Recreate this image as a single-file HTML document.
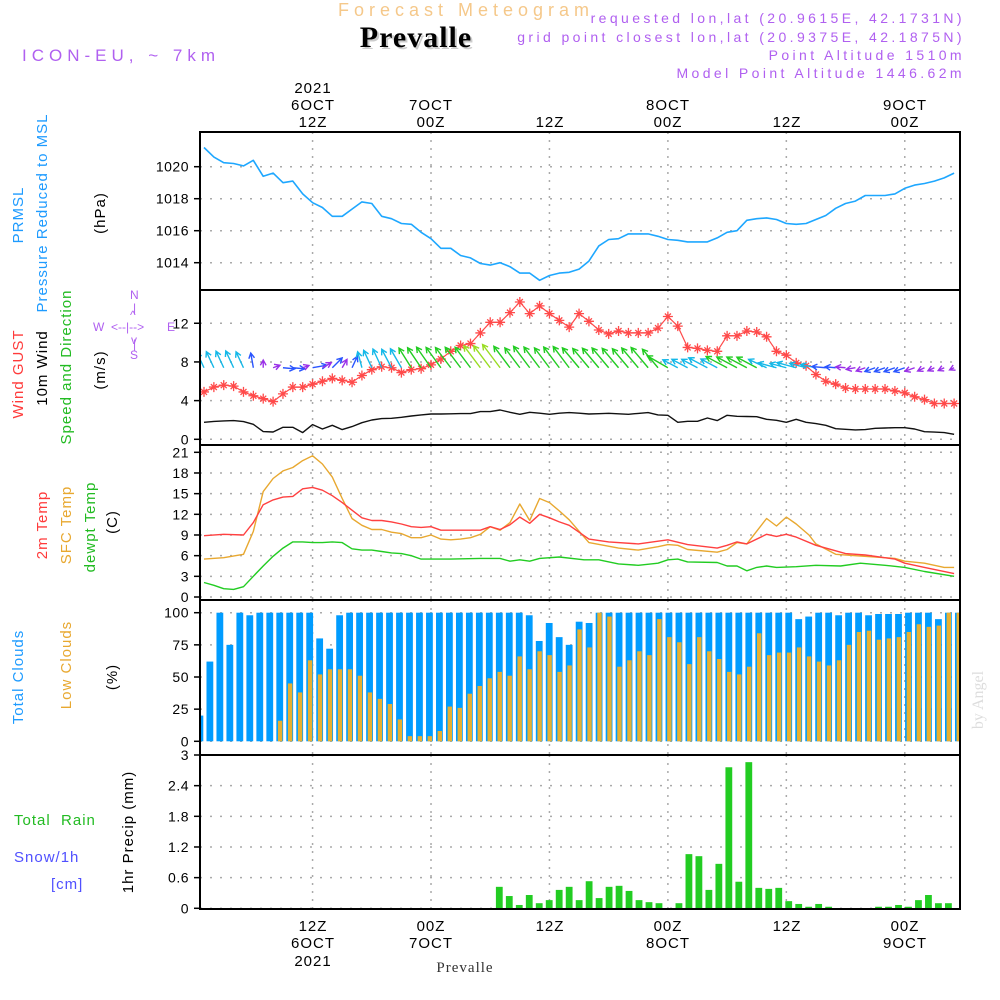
<!DOCTYPE html>
<html><head><meta charset="utf-8"><title>Forecast Meteogram Prevalle</title>
<style>
html,body{margin:0;padding:0;background:#fff;}
svg{display:block;font-family:"Liberation Sans",sans-serif;}
.t{font-size:15px;letter-spacing:1px;}
.v{fill:#b060f0;font-size:14px;letter-spacing:3.4px;}
.tick{font-size:14px;text-anchor:end;letter-spacing:0.5px;}
.ax{font-size:15px;text-anchor:middle;letter-spacing:1px;}
</style></head><body>
<svg id="chart" width="1000" height="1000" viewBox="0 0 1000 1000" xmlns="http://www.w3.org/2000/svg">
<defs><clipPath id="plotclip"><rect x="200" y="132" width="760" height="778"/></clipPath></defs>
<!-- header -->
<text x="466" y="16" text-anchor="middle" fill="#f5c88a" font-size="18" letter-spacing="5">Forecast Meteogram</text>
<text x="418" y="49" text-anchor="middle" fill="#ccc" font-family="Liberation Serif,serif" font-weight="bold" font-size="30" letter-spacing="1">Prevalle</text>
<text x="416" y="47" text-anchor="middle" fill="#000" font-family="Liberation Serif,serif" font-weight="bold" font-size="30" letter-spacing="1">Prevalle</text>
<text x="22" y="61" fill="#b060f0" font-size="17" letter-spacing="5">ICON-EU, ~ 7km</text>
<text x="965" y="23" text-anchor="end" class="v">requested lon,lat (20.9615E, 42.1731N)</text>
<text x="965" y="42" text-anchor="end" class="v">grid point closest lon,lat (20.9375E, 42.1875N)</text>
<text x="965" y="60" text-anchor="end" class="v">Point Altitude 1510m</text>
<text x="965" y="78" text-anchor="end" class="v">Model Point Altitude 1446.62m</text>
<!-- top time labels -->
<g class="ax">
<text x="313" y="93">2021</text><text x="313" y="110">6OCT</text><text x="313" y="127">12Z</text>
<text x="431" y="110">7OCT</text><text x="431" y="127">00Z</text>
<text x="550" y="127">12Z</text>
<text x="668" y="110">8OCT</text><text x="668" y="127">00Z</text>
<text x="787" y="127">12Z</text>
<text x="905" y="110">9OCT</text><text x="905" y="127">00Z</text>
</g>
<g class="ax">
<text x="313" y="931">12Z</text><text x="313" y="948">6OCT</text><text x="313" y="966">2021</text>
<text x="431" y="931">00Z</text><text x="431" y="948">7OCT</text>
<text x="550" y="931">12Z</text>
<text x="668" y="931">00Z</text><text x="668" y="948">8OCT</text>
<text x="787" y="931">12Z</text>
<text x="905" y="931">00Z</text><text x="905" y="948">9OCT</text>
</g>
<text x="465" y="972" text-anchor="middle" font-family="Liberation Serif,serif" font-size="15" letter-spacing="1" fill="#333">Prevalle</text>
<!-- left titles -->
<g class="t">
<text transform="rotate(-90 23 215)" x="23" y="215" text-anchor="middle" fill="#1e9bff">PRMSL</text>
<text transform="rotate(-90 47 213)" x="47" y="213" text-anchor="middle" fill="#1e9bff">Pressure Reduced to MSL</text>
<text transform="rotate(-90 105 213)" x="105" y="213" text-anchor="middle" fill="#000">(hPa)</text>
<text transform="rotate(-90 23 374)" x="23" y="374" text-anchor="middle" fill="#ff3b3b">Wind GUST</text>
<text transform="rotate(-90 47 368)" x="47" y="368" text-anchor="middle" fill="#000">10m Wind</text>
<text transform="rotate(-90 71 367)" x="71" y="367" text-anchor="middle" fill="#22bb22">Speed and Direction</text>
<text transform="rotate(-90 105 370)" x="105" y="370" text-anchor="middle" fill="#000">(m/s)</text>
<text transform="rotate(-90 47 525)" x="47" y="525" text-anchor="middle" fill="#ff3b3b">2m Temp</text>
<text transform="rotate(-90 71 525)" x="71" y="525" text-anchor="middle" fill="#e8a830">SFC Temp</text>
<text transform="rotate(-90 95 527)" x="95" y="527" text-anchor="middle" fill="#22bb22">dewpt Temp</text>
<text transform="rotate(-90 117 522)" x="117" y="522" text-anchor="middle" fill="#000">(C)</text>
<text transform="rotate(-90 23 677)" x="23" y="677" text-anchor="middle" fill="#1e9bff">Total Clouds</text>
<text transform="rotate(-90 71 665)" x="71" y="665" text-anchor="middle" fill="#e8a830">Low Clouds</text>
<text transform="rotate(-90 117 677)" x="117" y="677" text-anchor="middle" fill="#000">(%)</text>
<text transform="rotate(-90 133 832)" x="133" y="832" text-anchor="middle" fill="#000">1hr Precip (mm)</text>
</g>
<text x="14" y="825" class="t" fill="#22bb22">Total&#160;&#160;Rain</text>
<text x="14" y="862" class="t" fill="#5050ff">Snow/1h</text>
<text x="51" y="889" class="t" fill="#5050ff">[cm]</text>
<text transform="rotate(-90 983 700)" x="983" y="700" text-anchor="middle" fill="#ddd" font-family="Liberation Serif,serif" font-size="16">by Angel</text>
<!-- compass -->
<g fill="#b060f0" font-size="12">
<text x="130" y="299">N</text><text x="133" y="312">|</text><text x="130" y="319">^</text>
<text x="93" y="331">W</text><text x="111" y="331">&lt;--|--&gt;</text><text x="167" y="331">E</text>
<text x="131" y="344">v</text><text x="133" y="348">|</text><text x="130" y="359">S</text>
</g>
<g id="grid"></g>
<g id="marks" clip-path="url(#plotclip)"></g>
<g id="frames"></g>
</svg>
<script>
// ---- data ----
const pressT = [0,1,2,3,4,5,6,7,8,9,10,11,12,13,14,15,16,17,18,19,20,21,22,23,24,25,26,27,28,29,30,31,32,33,34,35,36,37,38,39,40,41,42,43,44,45,46,47,48,49,50,51,52,53,54,55,56,57,58,59,60,61,62,63,64,65,66,67,68,69,70,71,72,73,74,75,76];
const pressV = [1021.2,1020.6,1020.25,1020.2,1020.05,1020.4,1019.4,1019.6,1019.0,1019.1,1018.3,1017.75,1017.45,1016.9,1016.9,1017.35,1017.8,1017.7,1016.9,1016.75,1016.45,1016.4,1015.9,1015.5,1014.9,1014.9,1014.45,1014.3,1013.95,1013.85,1014.0,1013.75,1013.35,1013.35,1012.9,1013.2,1013.35,1013.4,1013.6,1014.1,1015.05,1015.45,1015.5,1015.8,1015.8,1015.8,1015.65,1015.45,1015.4,1015.3,1015.3,1015.3,1015.55,1015.9,1016.0,1016.65,1016.75,1016.8,1016.7,1016.45,1016.4,1016.45,1016.7,1016.95,1017.4,1017.7,1017.85,1018.2,1018.2,1018.2,1018.3,1018.65,1018.85,1018.95,1019.1,1019.3,1019.6];
const gustV = [4.9,5.4,5.6,5.5,4.9,4.5,4.2,3.9,4.7,5.4,5.4,5.7,6.0,6.3,6.1,5.9,6.6,7.2,7.5,7.4,6.9,7.2,7.3,7.7,8.3,9.1,9.7,9.9,11.0,12.1,12.1,13.1,14.2,13.0,13.8,13.0,12.3,11.6,13.0,12.2,11.3,10.9,11.2,11.0,11.0,11.0,11.5,12.7,11.7,9.5,9.4,9.2,9.1,10.7,10.7,11.2,11.1,10.6,9.1,8.7,7.9,7.6,6.7,6.0,5.7,5.3,5.2,5.2,5.2,5.2,5.0,4.8,4.4,4.1,3.7,3.7,3.7];
const windV = [1.76,1.85,1.9,1.93,1.83,1.55,0.8,0.76,1.24,1.24,0.69,1.52,1.07,1.45,1.0,1.31,1.72,2.0,2.14,2.17,2.28,2.41,2.52,2.62,2.62,2.64,2.66,2.66,2.86,2.86,3.03,2.79,2.59,2.79,2.7,2.59,2.7,2.76,2.7,2.62,2.65,2.69,2.64,2.59,2.68,2.76,2.52,2.48,1.76,1.86,1.86,2.2,1.93,2.48,2.38,2.36,2.34,2.07,1.97,1.76,2.07,1.76,1.62,1.45,1.1,1.03,0.97,1.0,1.14,1.17,1.2,1.2,1.07,0.79,0.74,0.69,0.52];
const windDir = [115,115,115,115,115,100,90,20,-5,-5,20,10,30,45,60,65,105,115,115,118,120,122,124,125,126,127,127,127,127,127,127,127,127,127,127,127,127,127,130,130,130,130,130,130,130,130,130,150,152,152,152,152,152,152,152,152,152,155,165,165,165,165,168,175,175,175,190,200,200,200,200,200,200,205,205,205,205];
const t2mT = [0,2,4,5,6,7,8,9,10,11,12,13,14,15,16,17,18,19,20,21,22,23,24,28,29,30,31,32,33,34,35,36,37,39,41,44,47,49,52,53,54,55,57,58,59,60,62,64,65,67,70,71,73,76];
const t2mV = [8.9,9.1,9.0,10.8,13.4,14.1,14.5,14.6,15.7,15.9,15.5,14.7,13.7,12.6,11.5,11.1,11.1,10.9,10.6,10.2,10.1,10.2,9.7,9.7,10.2,9.8,10.5,11.6,10.7,12.0,11.5,10.9,10.4,8.4,8.0,7.7,8.3,7.6,7.1,7.5,8.0,7.7,9.1,8.8,9.1,8.7,7.5,6.7,6.3,6.1,5.5,4.9,4.3,3.4];
const sfcT = [0,2,4,5,6,7,8,9,10,11,12,13,14,15,16,17,18,19,20,21,22,23,24,25,26,27,28,29,30,31,32,33,34,35,36,37,39,42,44,46,47,48,49,52,53,54,55,57,58,59,60,61.3,62,64,66,70,71,73,75,76];
const sfcV = [5.5,5.7,6.2,9.5,15.3,17.2,18.3,18.8,19.8,20.5,19.3,17.4,14.3,11.4,10.4,9.8,9.8,9.4,9.2,8.6,8.6,9.0,8.4,8.3,8.4,8.6,9.1,10.2,9.7,10.8,13.5,11.1,14.3,13.7,12.5,11.2,7.9,7.1,6.8,7.3,7.6,7.5,6.9,6.5,6.9,7.9,7.7,11.4,10.3,11.6,10.6,9.0,7.7,6.2,6.0,5.6,5.2,4.9,4.3,4.3];
const dewT = [0,1,2,3,4,5,6,7,8,9,10,11,12,13,14,15,16,17,18,19,20,21,22,23,24,25,28,30,31,32,33,34,36,38.5,40,42,44,46,47,48,49,52,53,54,55,56,57,58,60,62,64.5,66.5,69,71,73,76];
const dewV = [2.1,1.7,1.2,1.1,1.5,3.0,4.5,5.9,7.1,8.0,8.0,7.9,7.9,8.0,7.9,7.0,6.8,6.8,6.6,6.4,6.3,6.0,5.5,5.5,5.5,5.5,5.6,5.6,5.2,5.4,5.2,5.6,5.8,5.4,5.4,4.8,4.6,4.9,5.4,5.5,5.1,5.0,4.5,4.5,3.8,4.3,4.5,4.3,4.4,4.6,4.5,4.9,4.6,4.3,3.7,3.0];
const cloudTotal = [20,62,100,75,100,98,100,100,100,100,100,100,80,72,98,100,100,100,100,100,100,100,100,100,100,100,100,100,100,100,100,100,100,98,78,92,81,75,93,92,100,100,100,100,100,100,100,100,100,100,100,100,100,100,100,100,100,100,100,100,95,97,100,100,98,100,100,98,99,99,99,100,100,100,95,100,100];
const cloudLow = [0,0,0,0,0,0,0,0,16,45,38,63,52,56,56,56,51,38,33,29,17,4,4,4,8,27,26,37,43,49,54,51,66,56,70,67,54,59,87,73,100,97,58,63,70,67,95,81,77,60,81,70,64,54,52,58,84,67,69,69,73,66,62,59,63,75,85,86,79,80,81,85,91,89,90,100,100];
const precip = [0,0,0,0,0,0,0,0,0,0,0,0,0,0,0,0,0,0,0,0,0,0,0,0,0,0,0,0,0,0,0.42,0.24,0.065,0.26,0.10,0.16,0.36,0.42,0.16,0.53,0.20,0.42,0.44,0.34,0.16,0.12,0.10,0,0.10,1.06,1.02,0.36,0.87,2.76,0.52,2.86,0.40,0.38,0.40,0.14,0.085,0.03,0.085,0.03,0,0,0,0,0.03,0.03,0.065,0.03,0.16,0.26,0.10,0.10,0];
const pressTicks = [1014,1016,1018,1020];
const windTicks = [0,4,8,12];
const tempTicks = [0,3,6,9,12,15,18,21];
const cloudTicks = [0,25,50,75,100];
const precipTicks = [0,0.6,1.2,1.8,2.4,3];
const precipTickLabels = ["0","0.6","1.2","1.8","2.4","3"];
const timeGridHours = [11,23,35,47,59,71];

// ---- scales ----
const xT = t => 204 + 9.87*t;
const xB = i => 199.9 + 9.98*i;
const yP = p => 166.7 + (1020-p)*16;
const yW = v => 439.3 - 9.67*v;
const yT = c => 597 - 6.89*c;
const yC = c => 741.3 - 1.286*c;
const yR = r => 908.3 - 51.1*r;

const NS = "http://www.w3.org/2000/svg";
function mk(tag, attrs, parent){
  const e = document.createElementNS(NS, tag);
  for (const k in attrs) e.setAttribute(k, attrs[k]);
  parent.appendChild(e);
  return e;
}
const grid = document.getElementById('grid');
const marks = document.getElementById('marks');
const frames = document.getElementById('frames');

const panels = [
  {top:132,bot:290,ticks:pressTicks,labels:pressTicks.map(String),y:yP,name:'pressure'},
  {top:290,bot:445,ticks:windTicks,labels:windTicks.map(String),y:yW,name:'wind'},
  {top:445,bot:600,ticks:tempTicks,labels:tempTicks.map(String),y:yT,name:'temperature'},
  {top:600,bot:755,ticks:cloudTicks,labels:cloudTicks.map(String),y:yC,name:'clouds'},
  {top:755,bot:909,ticks:precipTicks,labels:precipTickLabels,y:yR,name:'precip'}
];
panels.forEach(p => {
  p.ticks.forEach((v,k) => {
    const yy = p.y(v);
    const gl = mk('line',{x1:200,x2:960,y1:yy,y2:yy,stroke:'#aaa','stroke-width':1.5,'stroke-dasharray':'2,8'},grid);
    
    
    const tk = mk('line',{x1:194,x2:200,y1:yy,y2:yy,stroke:'#000','stroke-width':1.5},frames);
    
    
    const tl = mk('text',{x:189,y:yy+5,'class':'tick'},frames);
    tl.textContent = p.labels[k];
    
    
  });
  timeGridHours.forEach(h => {
    const xx = xT(h);
    const vl = mk('line',{x1:xx,x2:xx,y1:p.top,y2:p.bot,stroke:'#aaa','stroke-width':1.5,'stroke-dasharray':'2,6'},grid);
    
    
  });
  const fr = mk('rect',{x:200,y:p.top,width:760,height:p.bot-p.top,fill:'none',stroke:'#000','stroke-width':2},frames);
  
  
});

function line(ts, vs, yf, color, w, name){
  const d = ts.map((t,k)=>(k?'L':'M')+xT(t).toFixed(1)+','+yf(vs[k]).toFixed(1)).join('');
  const e = mk('path',{d:d,fill:'none',stroke:color,'stroke-width':w,'stroke-linejoin':'round'},marks);
  
  
  return e;
}
const hours = windV.map((v,k)=>k);
line(pressT, pressV, yP, '#1ea7ff', 1.6, 'pressure-line');
line(hours, windV, yW, '#111', 1.4, 'wind-speed-line');
line(hours, gustV, yW, '#ff4a4a', 1.2, 'wind-gust-line');
gustV.forEach((v,k) => {
  const x = xT(k), y = yW(v);
  const m = mk('path',{d:`M${x-5},${y}H${x+5}M${x},${y-5}V${y+5}M${x-3},${y-3}L${x+3},${y+3}M${x-3},${y+3}L${x+3},${y-3}`,stroke:'#ff4a4a','stroke-width':1.3},marks);
  
  
});
function speedColor(s){
  if (s < 1.1) return '#9a30e8';
  if (s < 1.6) return '#2a55ff';
  if (s < 2.3) return '#14b8e8';
  if (s < 2.8) return '#22cc22';
  return '#99dd22';
}
windV.forEach((s,k) => {
  const a = windDir[k]*Math.PI/180, L = 9.6*s;
  const x0 = xT(k), y0 = yW(7.4);
  const x1 = x0 + L*Math.cos(a), y1 = y0 - L*Math.sin(a);
  const hb = a + Math.PI, h = 6;
  const hx1 = x1 + h*Math.cos(hb+0.5), hy1 = y1 - h*Math.sin(hb+0.5);
  const hx2 = x1 + h*Math.cos(hb-0.5), hy2 = y1 - h*Math.sin(hb-0.5);
  const c = speedColor(s);
  const ar = mk('path',{d:`M${x0},${y0}L${x1},${y1}M${hx1},${hy1}L${x1},${y1}L${hx2},${hy2}`,fill:'none',stroke:c,'stroke-width':1.4},marks);
  
  
});
line(sfcT, sfcV, yT, '#e8a830', 1.4, 'sfc-temp-line');
line(t2mT, t2mV, yT, '#ff4040', 1.4, '2m-temp-line');
line(dewT, dewV, yT, '#22cc22', 1.4, 'dewpoint-line');
cloudTotal.forEach((v,k) => {
  const x = xB(k);
  const b = mk('rect',{x:x-3.4,y:yC(v),width:6.8,height:yC(0)-yC(v),fill:'#009cff'},marks);
  
  
  const lv = cloudLow[k];
  if (lv > 0) {
    const o = mk('rect',{x:x-1.8,y:yC(lv),width:4.4,height:yC(0)-yC(lv),fill:'#e8b030'},marks);
    
    
  }
});
precip.forEach((v,k) => {
  if (v <= 0) return;
  const x = xB(k);
  const b = mk('rect',{x:x-3.4,y:yR(v),width:6.8,height:yR(0)-yR(v),fill:'#22cc22'},marks);
  
  
});
</script>
</body></html>
